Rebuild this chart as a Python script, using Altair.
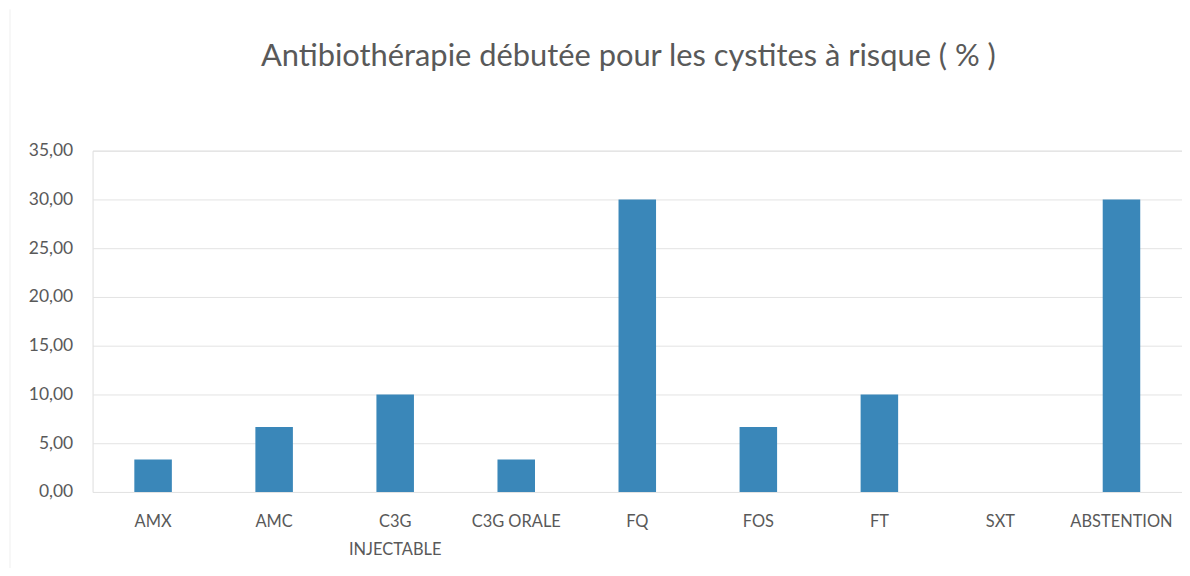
import altair as alt
import pandas as pd

categories = ["AMX", "AMC", "C3G\nINJECTABLE", "C3G ORALE", "FQ", "FOS", "FT", "SXT", "ABSTENTION"]
values = [3.33, 6.67, 10.00, 3.33, 30.00, 6.67, 10.00, 0.00, 30.00]
y_ticks = [0, 5, 10, 15, 20, 25, 30, 35]
title_text = "Antibiothérapie débutée pour les cystites à risque ( % )"

df = pd.DataFrame({"cat": categories, "val": values})
tdf = pd.DataFrame({"t": [title_text]})

FONT = "Lato"
GRAY = "#595959"
W, H = 1095, 343

bars = alt.Chart(df).mark_bar(color="#3A87B9").encode(
    x=alt.X("cat:N", sort=categories, title=None,
            scale=alt.Scale(paddingInner=0.69, paddingOuter=0.345),
            axis=alt.Axis(labelAngle=0, labelExpr="split(datum.label, '\\n')",
                          labelLineHeight=28, labelPadding=22, ticks=False,
                          domain=False, labelFontSize=16.5, labelColor=GRAY,
                          labelFont=FONT)),
    y=alt.Y("val:Q", title=None,
            scale=alt.Scale(domain=[0, 35], nice=False),
            axis=alt.Axis(values=y_ticks,
                          labelExpr="replace(format(datum.value, '.2f'), '.', ',')",
                          ticks=False, domain=False, labelPadding=20,
                          labelFontSize=17.5, labelColor=GRAY, labelFont=FONT,
                          gridColor="#E3E3E3", gridWidth=1)),
)

border = alt.Chart(tdf).mark_rule(color="#EFEFEF", strokeWidth=1, clip=False).encode(
    x=alt.value(-83), y=alt.value(-142), y2=alt.value(430)
)

title = alt.Chart(tdf).mark_text(font=FONT, fontSize=31, color=GRAY,
                                  align="center", baseline="alphabetic").encode(
    text="t:N", x=alt.value(W / 2 - 9), y=alt.value(-85)
)

chart = alt.layer(border, bars, title).properties(
    width=W, height=H,
    autosize=alt.AutoSizeParams(type="none"),
    padding={"left": 85, "top": 142, "right": 0, "bottom": 75},
).configure_view(stroke=None).configure(background="white")

chart.save("out.html", embed_options={"renderer": "svg", "actions": False})
